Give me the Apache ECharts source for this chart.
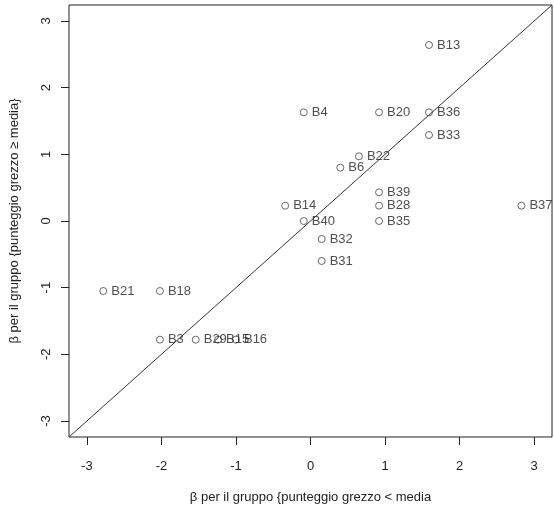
<!DOCTYPE html>
<html>
<head>
<meta charset="utf-8">
<script src="https://cdn.jsdelivr.net/npm/echarts@6/dist/echarts.min.js"></script>
<style>
  html, body { margin: 0; padding: 0; background: #fff; }
  #chart { width: 554px; height: 506px; }
</style>
</head>
<body>
<div id="chart"></div>
<script>
// item labels and betas
const items = ['B13', 'B4', 'B20', 'B36', 'B33', 'B22', 'B6', 'B39', 'B14', 'B28', 'B37',
  'B40', 'B35', 'B32', 'B31', 'B21', 'B18', 'B3', 'B29', 'B15', 'B16'];
const betaLow = [1.59, -0.09, 0.92, 1.59, 1.59, 0.65, 0.40, 0.92, -0.34, 0.92, 2.83,
  -0.09, 0.92, 0.15, 0.15, -2.78, -2.02, -2.02, -1.54, -1.24, -1.00];
const betaHigh = [2.64, 1.63, 1.63, 1.63, 1.29, 0.97, 0.80, 0.43, 0.23, 0.23, 0.23,
  0.00, 0.00, -0.27, -0.60, -1.05, -1.05, -1.78, -1.78, -1.78, -1.78];
const ticks = [-3, -2, -1, 0, 1, 2, 3];
const lim = [-3.24, 3.24];

const font = '"Liberation Sans", Arial, sans-serif';

const chart = echarts.init(document.getElementById('chart'));

const pts = items.map((n, i) => ({ name: n, value: [betaLow[i], betaHigh[i]] }));

const axisCommon = {
  type: 'value',
  min: lim[0],
  max: lim[1],
  splitLine: { show: false },
  axisLine: { show: false, onZero: false },
  axisTick: { show: true, customValues: ticks, length: 8, lineStyle: { color: '#222' } },
  nameLocation: 'middle',
  nameTextStyle: { fontFamily: font, fontSize: 13, color: '#222' }
};

chart.setOption({
  animation: false,
  grid: {
    left: 69, top: 5, width: 483, height: 432,
    outerBoundsMode: 'none',
    containLabel: false,
    show: true, borderColor: '#222', borderWidth: 1, backgroundColor: 'transparent'
  },
  xAxis: Object.assign({}, axisCommon, {
    name: 'β per il gruppo {punteggio grezzo < media',
    nameGap: 54,
    axisLabel: { customValues: ticks, margin: 23, fontFamily: font, fontSize: 13, color: '#222' }
  }),
  yAxis: Object.assign({}, axisCommon, {
    name: 'β per il gruppo {punteggio grezzo ≥ media}',
    nameGap: 48,
    axisLabel: { customValues: ticks, margin: 16, rotate: 90, fontFamily: font, fontSize: 13, color: '#222' }
  }),
  series: [
    {
      type: 'line',
      data: [[lim[0], lim[0]], [lim[1], lim[1]]],
      symbol: 'none',
      lineStyle: { color: '#333', width: 1 },
      silent: true
    },
    {
      type: 'scatter',
      data: pts,
      symbol: 'circle',
      symbolSize: 7,
      itemStyle: { color: '#fff', borderColor: '#444', borderWidth: 1 },
      label: {
        show: true,
        position: 'right',
        distance: 4,
        formatter: '{b}',
        fontFamily: font,
        fontSize: 13,
        color: '#222'
      }
    }
  ]
});
</script>
</body>
</html>
